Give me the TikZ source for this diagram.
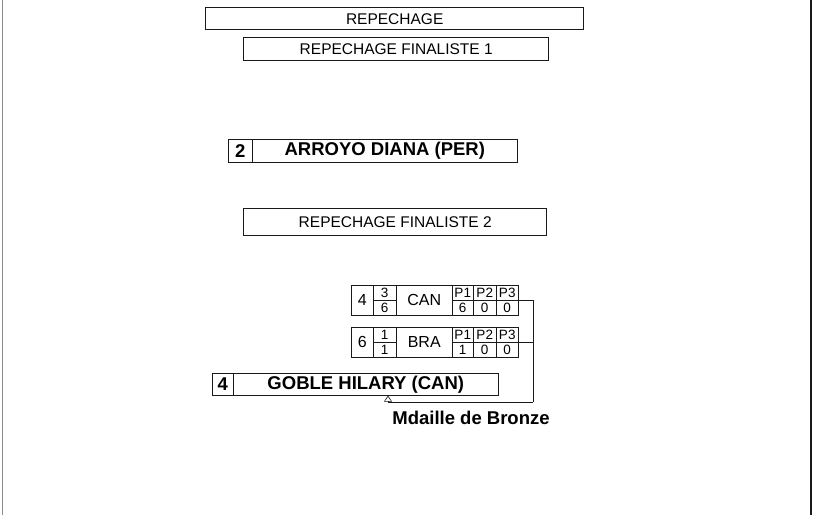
\documentclass[tikz,border=0pt]{standalone}
\usepackage{fontspec}
\setmainfont{Liberation Sans}
\usetikzlibrary{arrows.meta,positioning}
\definecolor{ink}{HTML}{1A1A1A}
\definecolor{rule}{HTML}{8A8A8A}
\tikzset{
  titlebox/.style={
    rectangle, draw=ink, line width=1.4pt, anchor=north west,
    inner sep=0pt, font=\fontsize{15.5}{15.5}\selectfont
  },
  namebox/.style={
    rectangle, draw=ink, line width=0.6pt, anchor=north west,
    inner sep=0pt, font=\fontsize{18.5}{18.5}\selectfont\bfseries
  },
  cell/.style={
    rectangle, draw=ink, line width=0.5pt, anchor=north west,
    inner sep=0pt, font=\fontsize{13.5}{13.5}\selectfont
  },
  bigcell/.style={cell, minimum height=30pt, font=\fontsize{16}{16}\selectfont},
  link/.style={draw=ink, line width=0.6pt},
}

\begin{document}
\begin{tikzpicture}[x=1pt, y=-1pt]
\useasboundingbox (0,0) rectangle (815,517);

% page edges
\draw[rule, line width=1.2pt] (2.5,0) -- (2.5,515);
\draw[ink, line width=1.2pt] (811,0) -- (811,515);

% headers
\node[titlebox, minimum width=378pt, minimum height=22pt] (rep) at (205,7) {REPECHAGE};
\node[titlebox, minimum width=305pt, minimum height=23pt] (repA) at (243,37) {REPECHAGE FINALISTE 1};
\node[titlebox, minimum width=303pt, minimum height=27pt] (repB) at (243,208) {REPECHAGE FINALISTE 2};

% finalist 1
\node[namebox, minimum width=24pt, minimum height=23pt] (arrseed) at (228,139) {2};
\node[namebox, minimum width=265pt, minimum height=23pt] (arroyo) at (252,139) {ARROYO DIANA (PER)};

% contest CAN - BRA
\node[bigcell, minimum width=22pt] (canseed) at (351,285) {4};
\node[cell, minimum width=23pt, minimum height=15pt] (canscA) at (373,285) {3};
\node[cell, minimum width=23pt, minimum height=15pt] (canscB) at (373,300) {6};
\node[bigcell, minimum width=56pt] (can) at (396,285) {CAN};
\node[cell, minimum width=21pt, minimum height=15pt] (canpA) at (452,285) {P1};
\node[cell, minimum width=23pt, minimum height=15pt] (canpB) at (473,285) {P2};
\node[cell, minimum width=22pt, minimum height=15pt] (canpC) at (496,285) {P3};
\node[cell, minimum width=21pt, minimum height=15pt] (canvA) at (452,300) {6};
\node[cell, minimum width=23pt, minimum height=15pt] (canvB) at (473,300) {0};
\node[cell, minimum width=22pt, minimum height=15pt] (canvC) at (496,300) {0};

\node[bigcell, minimum width=22pt] (braseed) at (351,327) {6};
\node[cell, minimum width=23pt, minimum height=15pt] (brascA) at (373,327) {1};
\node[cell, minimum width=23pt, minimum height=15pt] (brascB) at (373,342) {1};
\node[bigcell, minimum width=56pt] (bra) at (396,327) {BRA};
\node[cell, minimum width=21pt, minimum height=15pt] (brapA) at (452,327) {P1};
\node[cell, minimum width=23pt, minimum height=15pt] (brapB) at (473,327) {P2};
\node[cell, minimum width=22pt, minimum height=15pt] (brapC) at (496,327) {P3};
\node[cell, minimum width=21pt, minimum height=15pt] (bravA) at (452,342) {1};
\node[cell, minimum width=23pt, minimum height=15pt] (bravB) at (473,342) {0};
\node[cell, minimum width=22pt, minimum height=15pt] (bravC) at (496,342) {0};

% finalist 2
\node[namebox, minimum width=21pt, minimum height=22pt] (gobseed) at (212,373) {4};
\node[namebox, minimum width=265pt, minimum height=22pt] (goble) at (233,373) {GOBLE HILARY (CAN)};

\coordinate (join) at (533,402);
\coordinate (turn) at (388,402);
\draw[link] (canpC.south east) -| (join);
\draw[link] (brapC.south east) -- (brapC.south east -| join);
\draw[link, -{Triangle[open, length=6pt, width=8pt]}] (join) -- (turn) -- (turn |- goble.south);

\node[font=\fontsize{18.5}{18.5}\selectfont\bfseries] (bronze) at (471,418) {Mdaille de Bronze};

\end{tikzpicture}
\end{document}
